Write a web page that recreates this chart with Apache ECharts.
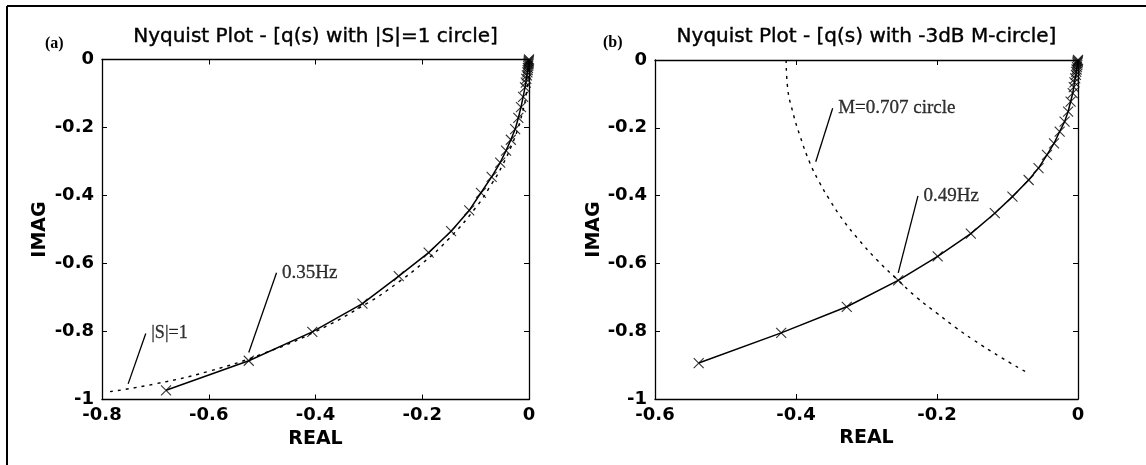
<!DOCTYPE html>
<html>
<head>
<meta charset="utf-8">
<script src="https://cdn.jsdelivr.net/npm/echarts@6/dist/echarts.min.js"></script>
<style>
  html, body { margin: 0; padding: 0; background: #fff; }
  #chart { width: 1146px; height: 465px; }
</style>
</head>
<body>
<div id="chart"></div>
<script>
// panel (a): q(s) with |S|=1 circle
var xTicksA = [-0.8, -0.6, -0.4, -0.2, 0];
var yTicksA = [-1, -0.8, -0.6, -0.4, -0.2, 0];
var qA = [
  [-0.680, -0.973], [-0.525, -0.886], [-0.406, -0.801], [-0.312, -0.718],
  [-0.244, -0.637], [-0.188, -0.568], [-0.146, -0.505], [-0.112, -0.444],
  [-0.090, -0.392], [-0.070, -0.345], [-0.054, -0.303], [-0.043, -0.268],
  [-0.034, -0.236], [-0.026, -0.205], [-0.020, -0.172], [-0.015, -0.140],
  [-0.011, -0.110], [-0.0075, -0.082], [-0.006, -0.068], [-0.005, -0.057],
  [-0.004, -0.047], [-0.003, -0.038], [-0.0025, -0.031], [-0.002, -0.025],
  [-0.0015, -0.019], [-0.001, -0.014], [-0.0008, -0.010], [-0.0005, -0.006],
  [-0.0003, -0.003], [0, 0]
];
var circleA = [
  [-0.785, -0.977], [-0.7, -0.954], [-0.6, -0.917], [-0.5, -0.866],
  [-0.4, -0.800], [-0.3, -0.714], [-0.25, -0.661], [-0.2, -0.600],
  [-0.15, -0.527], [-0.1, -0.436], [-0.07, -0.366], [-0.05, -0.312],
  [-0.03, -0.243], [-0.02, -0.199], [-0.01, -0.141], [-0.005, -0.100],
  [-0.002, -0.063], [0, 0]
];
var leaderA1 = [[-0.525, -0.862], [-0.473, -0.627]];
var leaderA2 = [[-0.751, -0.954], [-0.718, -0.806]];

// panel (b): q(s) with -3dB M-circle
var xTicksB = [-0.6, -0.4, -0.2, 0];
var yTicksB = [-1, -0.8, -0.6, -0.4, -0.2, 0];
var qB = [
  [-0.538, -0.894], [-0.421, -0.805], [-0.328, -0.728], [-0.255, -0.650],
  [-0.199, -0.579], [-0.152, -0.512], [-0.118, -0.452], [-0.093, -0.403],
  [-0.070, -0.354], [-0.056, -0.319], [-0.044, -0.280], [-0.034, -0.246],
  [-0.026, -0.211], [-0.019, -0.182], [-0.014, -0.152], [-0.0105, -0.123],
  [-0.0075, -0.098], [-0.006, -0.080], [-0.005, -0.066], [-0.004, -0.054],
  [-0.003, -0.044], [-0.0025, -0.035], [-0.002, -0.028], [-0.0015, -0.021],
  [-0.001, -0.015], [-0.0008, -0.010], [-0.0005, -0.006], [-0.0003, -0.003],
  [0, 0]
];
var mCircleB = [
  [-0.414, 0], [-0.412, -0.08], [-0.405, -0.15], [-0.394, -0.226],
  [-0.380, -0.305], [-0.367, -0.36], [-0.353, -0.41], [-0.334, -0.47],
  [-0.311, -0.53], [-0.285, -0.59], [-0.255, -0.65], [-0.229, -0.70],
  [-0.200, -0.747], [-0.173, -0.79], [-0.148, -0.826], [-0.111, -0.875],
  [-0.074, -0.92]
];
var leaderB1 = [[-0.372, -0.300], [-0.348, -0.1425]];
var leaderB2 = [[-0.255, -0.628], [-0.227, -0.401]];

var chart = echarts.init(document.getElementById('chart'));

var tickFmt = function (v) { return String(+v.toFixed(1)); };
var crossSym = 'path://M0,0L10,10M10,0L0,10';

function xAx(grid, ticks, pos, name) {
  var a = {
    type: 'value', gridIndex: grid, position: pos,
    min: ticks[0], max: ticks[ticks.length - 1], interval: 0.2,
    axisLine: { show: true, onZero: false, lineStyle: { color: '#000', width: 1.3 } },
    axisTick: { show: true, inside: true, length: 5, lineStyle: { color: '#000' } },
    splitLine: { show: false },
    axisLabel: { show: pos === 'bottom', margin: 7, color: '#000', formatter: tickFmt,
      fontFamily: 'DejaVu Sans', fontWeight: 'bold', fontSize: 18 },
    name: name, nameLocation: 'middle'
  };
  if (pos === 'bottom') {
    a.nameGap = 29;
    a.nameTextStyle = { color: '#000', fontFamily: 'DejaVu Sans', fontWeight: 'bold', fontSize: 19 };
  } else {
    a.nameGap = 13;
    a.nameTextStyle = { color: '#000', fontFamily: 'DejaVu Sans', fontSize: 20,
      textBorderColor: '#000', textBorderWidth: 0.4 };
  }
  return a;
}
function yAx(grid, ticks, pos, gap) {
  return {
    type: 'value', gridIndex: grid, position: pos,
    min: ticks[0], max: ticks[ticks.length - 1], interval: 0.2,
    axisLine: { show: true, onZero: false, lineStyle: { color: '#000', width: 1.3 } },
    axisTick: { show: true, inside: true, length: 5, lineStyle: { color: '#000' } },
    splitLine: { show: false },
    axisLabel: { show: pos === 'left', margin: 8, color: '#000', formatter: tickFmt,
      fontFamily: 'DejaVu Sans', fontWeight: 'bold', fontSize: 18 },
    name: pos === 'left' ? 'IMAG' : '', nameLocation: 'middle', nameGap: gap,
    nameTextStyle: { color: '#000', fontFamily: 'DejaVu Sans', fontWeight: 'bold', fontSize: 19 }
  };
}

function curve(xi, yi, data) {
  return [{
    type: 'line', xAxisIndex: xi, yAxisIndex: yi, data: data, showSymbol: false,
    lineStyle: { color: '#000', width: 1.5 }, silent: true, z: 3
  }, {
    type: 'scatter', xAxisIndex: xi, yAxisIndex: yi, data: data,
    symbol: crossSym, symbolSize: 10,
    itemStyle: { color: 'transparent', borderColor: '#000', borderWidth: 1.1 }, silent: true, z: 4
  }];
}
function dotted(xi, yi, data) {
  return {
    type: 'line', xAxisIndex: xi, yAxisIndex: yi, data: data, showSymbol: false, smooth: true,
    lineStyle: { color: '#000', width: 1.4, type: [3, 5] }, silent: true, z: 2
  };
}
function leader(xi, yi, data, text, size) {
  return [{
    type: 'line', xAxisIndex: xi, yAxisIndex: yi, data: data, showSymbol: false,
    lineStyle: { color: '#000', width: 1.3 }, silent: true
  }, {
    type: 'scatter', xAxisIndex: xi, yAxisIndex: yi, data: [data[1]], symbolSize: 1,
    itemStyle: { color: 'transparent' }, silent: true,
    label: { show: true, position: 'right', distance: 5, formatter: text, color: '#000',
      fontFamily: 'Liberation Serif', fontSize: size,
      textBorderColor: '#000', textBorderWidth: 0.3 }
  }];
}

var option = {
  animation: false,
  backgroundColor: '#fff',
  grid: [
    { left: 102, top: 59.5, width: 427, height: 340 },
    { left: 655, top: 60, width: 423, height: 339 }
  ],
  xAxis: [
    xAx(0, xTicksA, 'bottom', 'REAL'),
    xAx(0, xTicksA, 'top', 'Nyquist Plot - [q(s) with |S|=1 circle]'),
    xAx(1, xTicksB, 'bottom', 'REAL'),
    xAx(1, xTicksB, 'top', 'Nyquist Plot - [q(s) with -3dB M-circle]')
  ],
  yAxis: [
    yAx(0, yTicksA, 'left', 52),
    yAx(0, yTicksA, 'right', 0),
    yAx(1, yTicksB, 'left', 50),
    yAx(1, yTicksB, 'right', 0)
  ],
  series: [].concat(
    dotted(0, 0, circleA),
    curve(0, 0, qA),
    leader(0, 0, leaderA1, '0.35Hz', 19),
    leader(0, 0, leaderA2, '|S|=1', 18),
    dotted(2, 2, mCircleB),
    curve(2, 2, qB),
    leader(2, 2, leaderB1, 'M=0.707 circle', 19),
    leader(2, 2, leaderB2, '0.49Hz', 19)
  ),
  graphic: [
    { type: 'line', shape: { x1: 7, y1: 6, x2: 1146, y2: 6 }, style: { stroke: '#000', lineWidth: 2 } },
    { type: 'line', shape: { x1: 7, y1: 6, x2: 7, y2: 465 }, style: { stroke: '#000', lineWidth: 2 } },
    { type: 'text', left: 45, top: 36, style: { text: '(a)', fill: '#000', font: 'bold 16px "Liberation Serif"' } },
    { type: 'text', left: 603, top: 35, style: { text: '(b)', fill: '#000', font: 'bold 16px "Liberation Serif"' } }
  ]
};
chart.setOption(option);
window.addEventListener('resize', function () {
  chart.resize();
});
</script>
</body>
</html>
